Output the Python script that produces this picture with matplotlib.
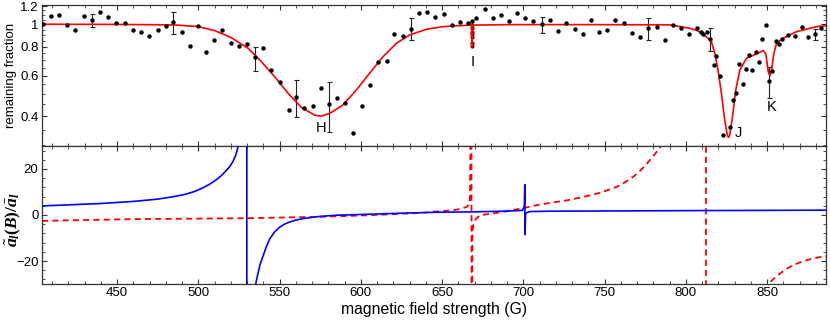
import numpy as np
import matplotlib
matplotlib.use("Agg")
import matplotlib.pyplot as plt
from matplotlib.ticker import FixedLocator, MultipleLocator, NullFormatter, FixedFormatter

plt.rcParams['font.family'] = ['Liberation Sans', 'DejaVu Sans']
plt.rcParams['mathtext.fontset'] = 'custom'
plt.rcParams['mathtext.rm'] = 'Liberation Serif:bold'
plt.rcParams['mathtext.it'] = 'Liberation Serif:italic:bold'
plt.rcParams['mathtext.bf'] = 'Liberation Serif:bold'
try:
    plt.rcParams['mathtext.bfit'] = 'Liberation Serif:italic:bold'
    HAS_BFIT = True
except Exception:
    HAS_BFIT = False

# ---------------- data: top panel (measured remaining fraction) ----------------
field_pts = [404.5, 409.3, 414.2, 419.4, 424.3, 429.4, 434.4, 439.5, 444.4, 449.6,
             454.8, 459.7, 464.6, 469.8, 474.9, 479.8, 484.7, 489.8, 494.8, 499.8,
             504.7, 509.9, 514.8, 519.9, 524.9, 529.9, 534.9, 539.8, 545.0, 550.3,
             555.5, 560.4, 565.3, 570.4, 575.3, 580.2, 585.3, 590.2, 595.4, 600.5,
             605.5, 610.6, 615.8, 620.7, 625.9, 630.7, 635.6, 640.8, 645.7, 650.9,
             656.0, 660.9, 666.0, 668.5, 670.9, 676.1, 681.2, 686.2, 691.3, 696.1,
             701.3, 706.2, 711.4, 716.3, 721.5, 726.4, 731.5, 736.5, 741.4, 746.5,
             751.5, 756.7, 761.7, 766.7, 771.6, 776.8, 782.0, 786.9, 792.0, 796.9,
             801.8, 806.9, 809.2, 810.8, 812.9, 815.0, 817.1, 818.8, 820.9, 823.0,
             826.9, 828.8, 830.8, 832.8, 834.9, 836.8, 838.8, 840.9, 842.9, 845.0,
             847.1, 849.1, 851.2, 853.2, 855.2, 857.3, 859.4, 863.1, 867.4, 871.3,
             875.4, 879.3, 883.3]
fraction_pts = [1.00, 1.09, 1.10, 0.99, 0.95, 1.09, 1.04, 1.13, 1.08, 1.01,
                1.015, 0.95, 0.93, 0.89, 0.95, 0.985, 1.02, 0.925, 0.81, 0.98,
                0.757, 0.856, 0.944, 0.83, 0.81, 0.82, 0.72, 0.79, 0.634, 0.563,
                0.427, 0.484, 0.434, 0.441, 0.528, 0.453, 0.482, 0.458, 0.337, 0.445,
                0.544, 0.685, 0.692, 0.91, 0.894, 0.959, 1.119, 1.13, 1.081, 1.107,
                0.992, 1.028, 1.015, 1.035, 1.067, 1.164, 1.064, 1.10, 1.033, 1.122,
                1.064, 1.039, 1.002, 1.046, 0.94, 1.018, 0.956, 0.906, 1.046, 0.93,
                0.946, 1.05, 1.018, 0.921, 0.88, 0.963, 0.978, 0.86, 0.998, 0.969,
                0.91, 0.963, 0.926, 0.912, 0.93, 0.865, 0.665, 0.727, 0.599, 0.330,
                0.358, 0.469, 0.502, 0.674, 0.553, 0.641, 0.737, 0.632, 0.757, 0.688,
                0.868, 0.995, 0.566, 0.63, 0.85, 0.82, 0.863, 0.903, 0.894, 0.978,
                0.88, 0.906, 0.966]

# fine scan at resonance I
fine_field = [668.4, 668.4, 668.4, 668.4, 668.4, 668.4, 668.4]
fine_fraction = [0.992, 0.966, 0.928, 0.907, 0.885, 0.829, 0.807]

# points carrying error bars
err_field = [434.4, 484.7, 534.9, 560.4, 580.2, 630.7, 711.4, 776.8, 815.0, 851.2, 879.3]
err_value = [1.04, 1.02, 0.72, 0.484, 0.453, 0.959, 1.002, 0.963, 0.865, 0.566, 0.906]
err_low = [0.975, 0.91, 0.63, 0.396, 0.343, 0.854, 0.92, 0.854, 0.767, 0.479, 0.855]
err_high = [1.11, 1.13, 0.80, 0.573, 0.562, 1.064, 1.075, 1.07, 0.963, 0.652, 0.956]

# fitted curve (red)
fit_field = [403.8, 450.0, 485.4, 500.0, 510.1, 520.3, 530.6, 538.8, 547.0, 555.3,
             563.4, 571.6, 575.5, 580.8, 588.9, 597.2, 605.4, 613.7, 621.9, 630.1,
             640.3, 650.6, 660.0, 668.1, 668.4, 668.7, 692.8, 738.0, 790.0, 802.2,
             806.4, 809.5, 812.6, 815.7, 817.8, 819.8, 821.9, 823.9, 825.6, 826.4,
             827.0, 828.7, 830.7, 833.2, 837.3, 843.5, 847.6, 849.2, 850.7, 851.7,
             852.7, 854.2, 855.8, 859.8, 868.1, 880.4, 886.5]
fit_fraction = [1.002, 1.0, 0.995, 0.978, 0.94, 0.876, 0.788, 0.689, 0.593, 0.502,
                0.437, 0.404, 0.40, 0.411, 0.447, 0.519, 0.614, 0.725, 0.828, 0.90,
                0.953, 0.978, 0.988, 0.992, 0.80, 0.993, 0.998, 0.998, 0.996, 0.963,
                0.944, 0.92, 0.885, 0.842, 0.75, 0.634, 0.502, 0.385, 0.328, 0.324,
                0.331, 0.398, 0.519, 0.634, 0.713, 0.745, 0.77, 0.745, 0.624, 0.598,
                0.634, 0.75, 0.828, 0.871, 0.93, 0.978, 0.988]

# ---------------- data: bottom panel (scattering length ratio) ----------------
blue_field = [403.8, 420.0, 440.0, 460.0, 475.0, 485.0, 492.0, 498.0, 503.0, 507.0,
              511.0, 514.0, 517.0, 519.5, 521.5, 523.0, 524.0, 524.6, 527.0, 529.8,
              529.9, 533.0, 535.3, 536.5, 538.0, 540.0, 542.0, 544.0, 547.0, 550.0,
              553.0, 556.0, 560.0, 565.0, 575.0, 585.0, 605.6, 626.1, 646.8, 667.2,
              687.8, 699.5, 700.6, 700.9, 701.0, 701.4, 703.9, 716.2, 800.0, 886.5]
blue_ratio = [3.95, 4.4, 5.0, 5.9, 6.9, 8.0, 9.0, 10.3, 11.9, 13.4,
              15.3, 17.0, 19.2, 21.2, 23.5, 26.0, 28.5, 30.5, 60.0, 1000.0,
              -1000.0, -60.0, -30.0, -26.0, -21.5, -17.5, -13.5, -10.3, -7.3, -5.3,
              -4.0, -3.1, -2.2, -1.5, -0.6, -0.1, 0.35, 0.8, 1.2, 1.35,
              1.65, 2.0, 4.0, 13.2, -8.5, 0.8, 1.5, 1.65, 1.9, 2.1]

red_field_a = [403.8, 459.9, 529.7, 550.2, 574.8, 605.5, 636.5, 656.9, 661.0, 665.1,
               667.1, 667.9, 668.05, 668.15, 668.4, 668.7, 669.2, 670.1, 673.3, 687.6,
               700.0, 708.1, 716.3, 727.0, 736.7, 747.0, 757.4, 763.0, 768.0, 772.0,
               776.0, 779.0, 782.0, 784.6, 786.5]
red_ratio_a = [-2.55, -1.8, -1.4, -1.1, -0.8, -0.1, 0.9, 2.1, 2.6, 3.5,
               5.0, 60.0, 1000.0, -1000.0, -60.0, -7.3, -4.5, -2.3, -0.1, 1.35,
               3.0, 4.25, 5.25, 6.4, 7.85, 9.6, 12.2, 14.4, 16.8, 19.3,
               22.3, 24.8, 27.4, 29.8, 40.0]
red_field_b = [812.6, 812.6]
red_ratio_b = [-40.0, 40.0]
red_field_c = [849.8, 850.7, 854.0, 858.0, 862.0, 866.0, 871.0, 876.0, 881.0, 886.5]
red_ratio_c = [-33.0, -30.0, -27.8, -25.4, -23.4, -21.8, -20.4, -19.3, -18.5, -17.9]

labels = ['H', 'I', 'J', 'K']

# ---------------- figure ----------------
fig = plt.figure(figsize=(8.30, 3.22), dpi=100)
L, W = 0.0506, 0.9451
ax1 = fig.add_axes([L, 0.5466, W, 0.4394])
ax2 = fig.add_axes([L, 0.1180, W, 0.4286], sharex=ax1)

frame_col = '#333333'
for ax in (ax1, ax2):
    for s in ax.spines.values():
        s.set_color(frame_col)
        s.set_linewidth(0.9)
    ax.tick_params(which='both', direction='in', top=True, right=True,
                   color=frame_col, labelsize=9.5, pad=2.5)
    ax.tick_params(which='major', length=3.5, width=0.8)
    ax.tick_params(which='minor', length=2.0, width=0.6)

# top panel
ax1.set_yscale('log')
ax1.errorbar(err_field, err_value,
             yerr=[np.array(err_value) - np.array(err_low), np.array(err_high) - np.array(err_value)],
             fmt='none', ecolor='#222222', elinewidth=0.8, capsize=1.8, capthick=0.8, zorder=2)
ax1.plot(fine_field, fine_fraction, 'o', color='#660000', ms=3.0, mew=0, zorder=3)
ax1.plot(fit_field, fit_fraction, '-', color='#ff0000', lw=1.2, zorder=4)
ax1.plot(field_pts, fraction_pts, 'o', color='black', ms=3.2, mew=0, zorder=5)
ax1.set_ylim(0.297, 1.22)
ax1.set_xlim(403.8, 886.5)
ax1.yaxis.set_major_locator(FixedLocator([0.4, 0.6, 0.8, 1.0, 1.2]))
ax1.yaxis.set_major_formatter(FixedFormatter(['0.4', '0.6', '0.8', '1', '1.2']))
ax1.yaxis.set_minor_locator(FixedLocator([0.3, 0.35, 0.45, 0.5, 0.55, 0.65, 0.7, 0.75,
                                          0.85, 0.9, 0.95, 1.05, 1.1, 1.15]))
ax1.yaxis.set_minor_formatter(NullFormatter())
ax1.tick_params(axis='x', labelbottom=False)
ax1.set_ylabel('remaining fraction', fontsize=9.5)
ax1.yaxis.set_label_coords(-0.032, 0.5)

ax1.text(575.4, 0.354, labels[0], ha='center', va='center', fontsize=10.5)
ax1.text(668.6, 0.689, labels[1], ha='center', va='center', fontsize=10.5)
ax1.text(832.5, 0.339, labels[2], ha='center', va='center', fontsize=10.5)
ax1.text(852.7, 0.437, labels[3], ha='center', va='center', fontsize=10.5)

# bottom panel
ax2.plot(blue_field, blue_ratio, '-', color='#0000ff', lw=1.2, zorder=3)
for fx, fy in ((red_field_a, red_ratio_a), (red_field_b, red_ratio_b), (red_field_c, red_ratio_c)):
    ax2.plot(fx, fy, '--', color='#ff0000', lw=1.3, dashes=(3.4, 2.3), zorder=2)
ax2.set_ylim(-30, 30)
ax2.yaxis.set_major_locator(FixedLocator([-20, 0, 20]))
ax2.yaxis.set_minor_locator(MultipleLocator(4))
ax2.xaxis.set_major_locator(MultipleLocator(50))
ax2.xaxis.set_minor_locator(MultipleLocator(10))
ax2.set_xlabel('magnetic field strength (G)', fontsize=11.3, labelpad=2)

if HAS_BFIT:
    ylab = r'$\tilde{\mathbfit{a}}_{\mathbfit{l}}(\mathbfit{B})/\bar{\mathbfit{a}}_{\mathbfit{l}}$'
else:
    ylab = r'$\tilde{a}_{l}(B)/\bar{a}_{l}$'
ax2.set_ylabel(ylab, fontsize=12.5)
ax2.yaxis.set_label_coords(-0.024, 0.47)
try:
    fig.canvas.draw()
except Exception:
    ax2.set_ylabel(r'$\tilde{a}_{l}(B)/\bar{a}_{l}$', fontsize=12.5)

fig.savefig('out.png', dpi=100)
